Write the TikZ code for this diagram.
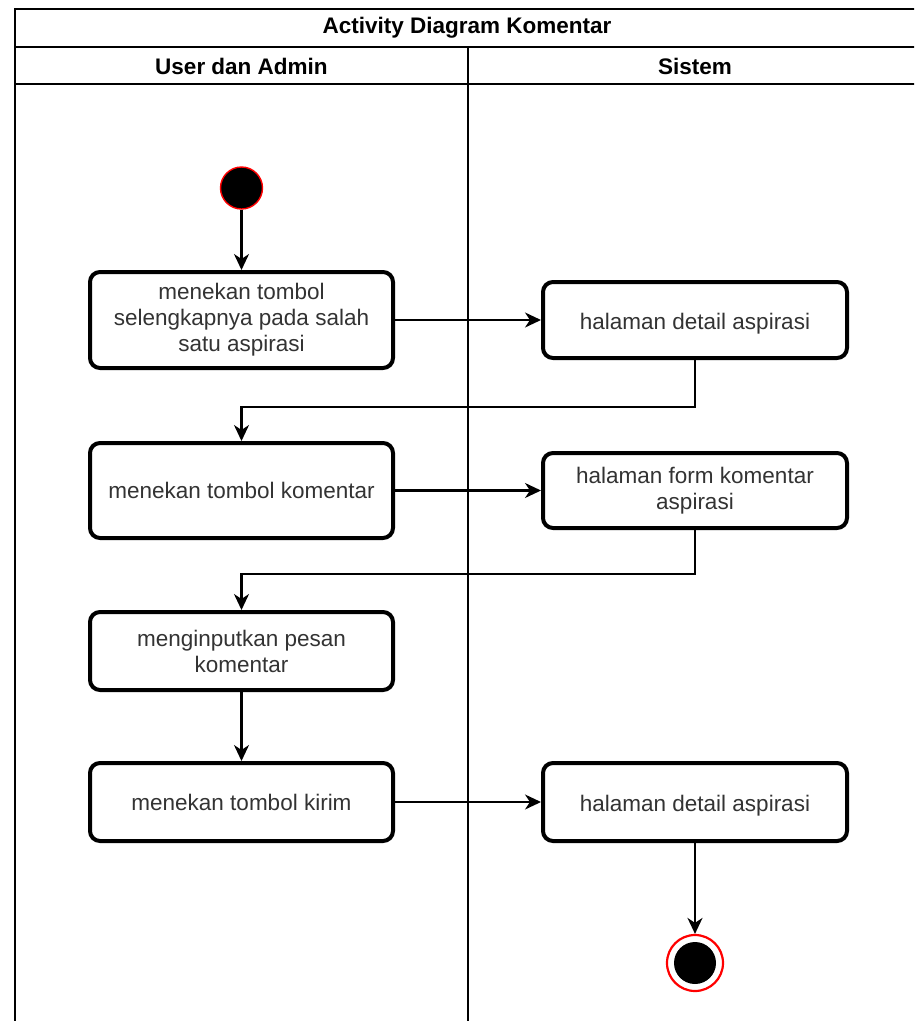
\documentclass[tikz,border=0pt]{standalone}
\usepackage{fontspec}
\setmainfont{Liberation Sans}
\usetikzlibrary{arrows.meta}
\definecolor{txt}{HTML}{333333}
\definecolor{startred}{HTML}{FF0000}
\begin{document}
\begin{tikzpicture}[x=1pt,y=-1pt,
  lane/.style={line width=2.4pt,draw=black},
  act/.style={draw=black,line width=4pt,rounded corners=10pt,fill=white,
    minimum width=303pt,align=center,text=txt,inner sep=4pt,
    font=\fontsize{22.5}{26}\selectfont},
  lowtext/.style={text height=22pt,text depth=3pt},
  flow/.style={line width=2.2pt,-{Stealth[length=16pt,width=15pt,inset=5pt]}},
  title/.style={font=\fontsize{22.5}{26}\selectfont\bfseries,text=black},
  initial/.style={circle,fill=black,draw=startred,line width=1.4pt,minimum size=42pt,inner sep=0pt},
  finalring/.style={circle,draw=startred,line width=2.2pt,fill=white,minimum size=56pt,inner sep=0pt},
  finaldot/.style={circle,fill=black,minimum size=42pt,inner sep=0pt}
]
\useasboundingbox (0,0) rectangle (914,1021);
\clip (0,0) rectangle (914,1021);
\fill[white] (0,0) rectangle (914,1021);

% swimlane frame
\draw[lane] (15,1040) -- (15,9) -- (930,9);
\draw[lane] (15,47) -- (930,47);
\draw[lane] (15,84) -- (930,84);
\draw[lane] (468,47) -- (468,1040);
\node[title] (ttl) at (467,28) {Activity Diagram Komentar};
\node[title] (lu) at (241.5,66) {User dan Admin};
\node[title] (ls) at (695,66) {Sistem};

% start and end
\node[initial] (start) at (241.5,188) {};
\node[finalring] (end) at (695,963) {};
\node[finaldot] (enddot) at (695,963) {};

% activities, user lane
\node[act,minimum height=96pt] (a1) at (241.5,320) {menekan tombol\\selengkapnya pada salah\\satu aspirasi};
\node[act,minimum height=95pt] (a2) at (241.5,490.5) {menekan tombol komentar};
\node[act,minimum height=78pt] (a3) at (241.5,651) {menginputkan pesan\\komentar};
\node[act,minimum height=78pt] (a4) at (241.5,802) {menekan tombol kirim};

% activities, system lane
\node[act,lowtext,minimum width=304pt,minimum height=76pt] (r1) at (695,320) {halaman detail aspirasi};
\node[act,minimum width=304pt,minimum height=75pt] (r2) at (695,490.5) {halaman form komentar\\aspirasi};
\node[act,lowtext,minimum width=304pt,minimum height=78pt] (r4) at (695,802) {halaman detail aspirasi};

% control flow
\draw[flow] (start) -- (a1);
\draw[flow] (a1) -- (r1);
\draw[flow] (r1.south) -- ++(0,47) -| (a2.north);
\draw[flow] (a2) -- (r2);
\draw[flow] (r2.south) -- ++(0,44) -| (a3.north);
\draw[flow] (a3) -- (a4);
\draw[flow] (a4) -- (r4);
\draw[flow] (r4) -- (end);
\end{tikzpicture}
\end{document}
